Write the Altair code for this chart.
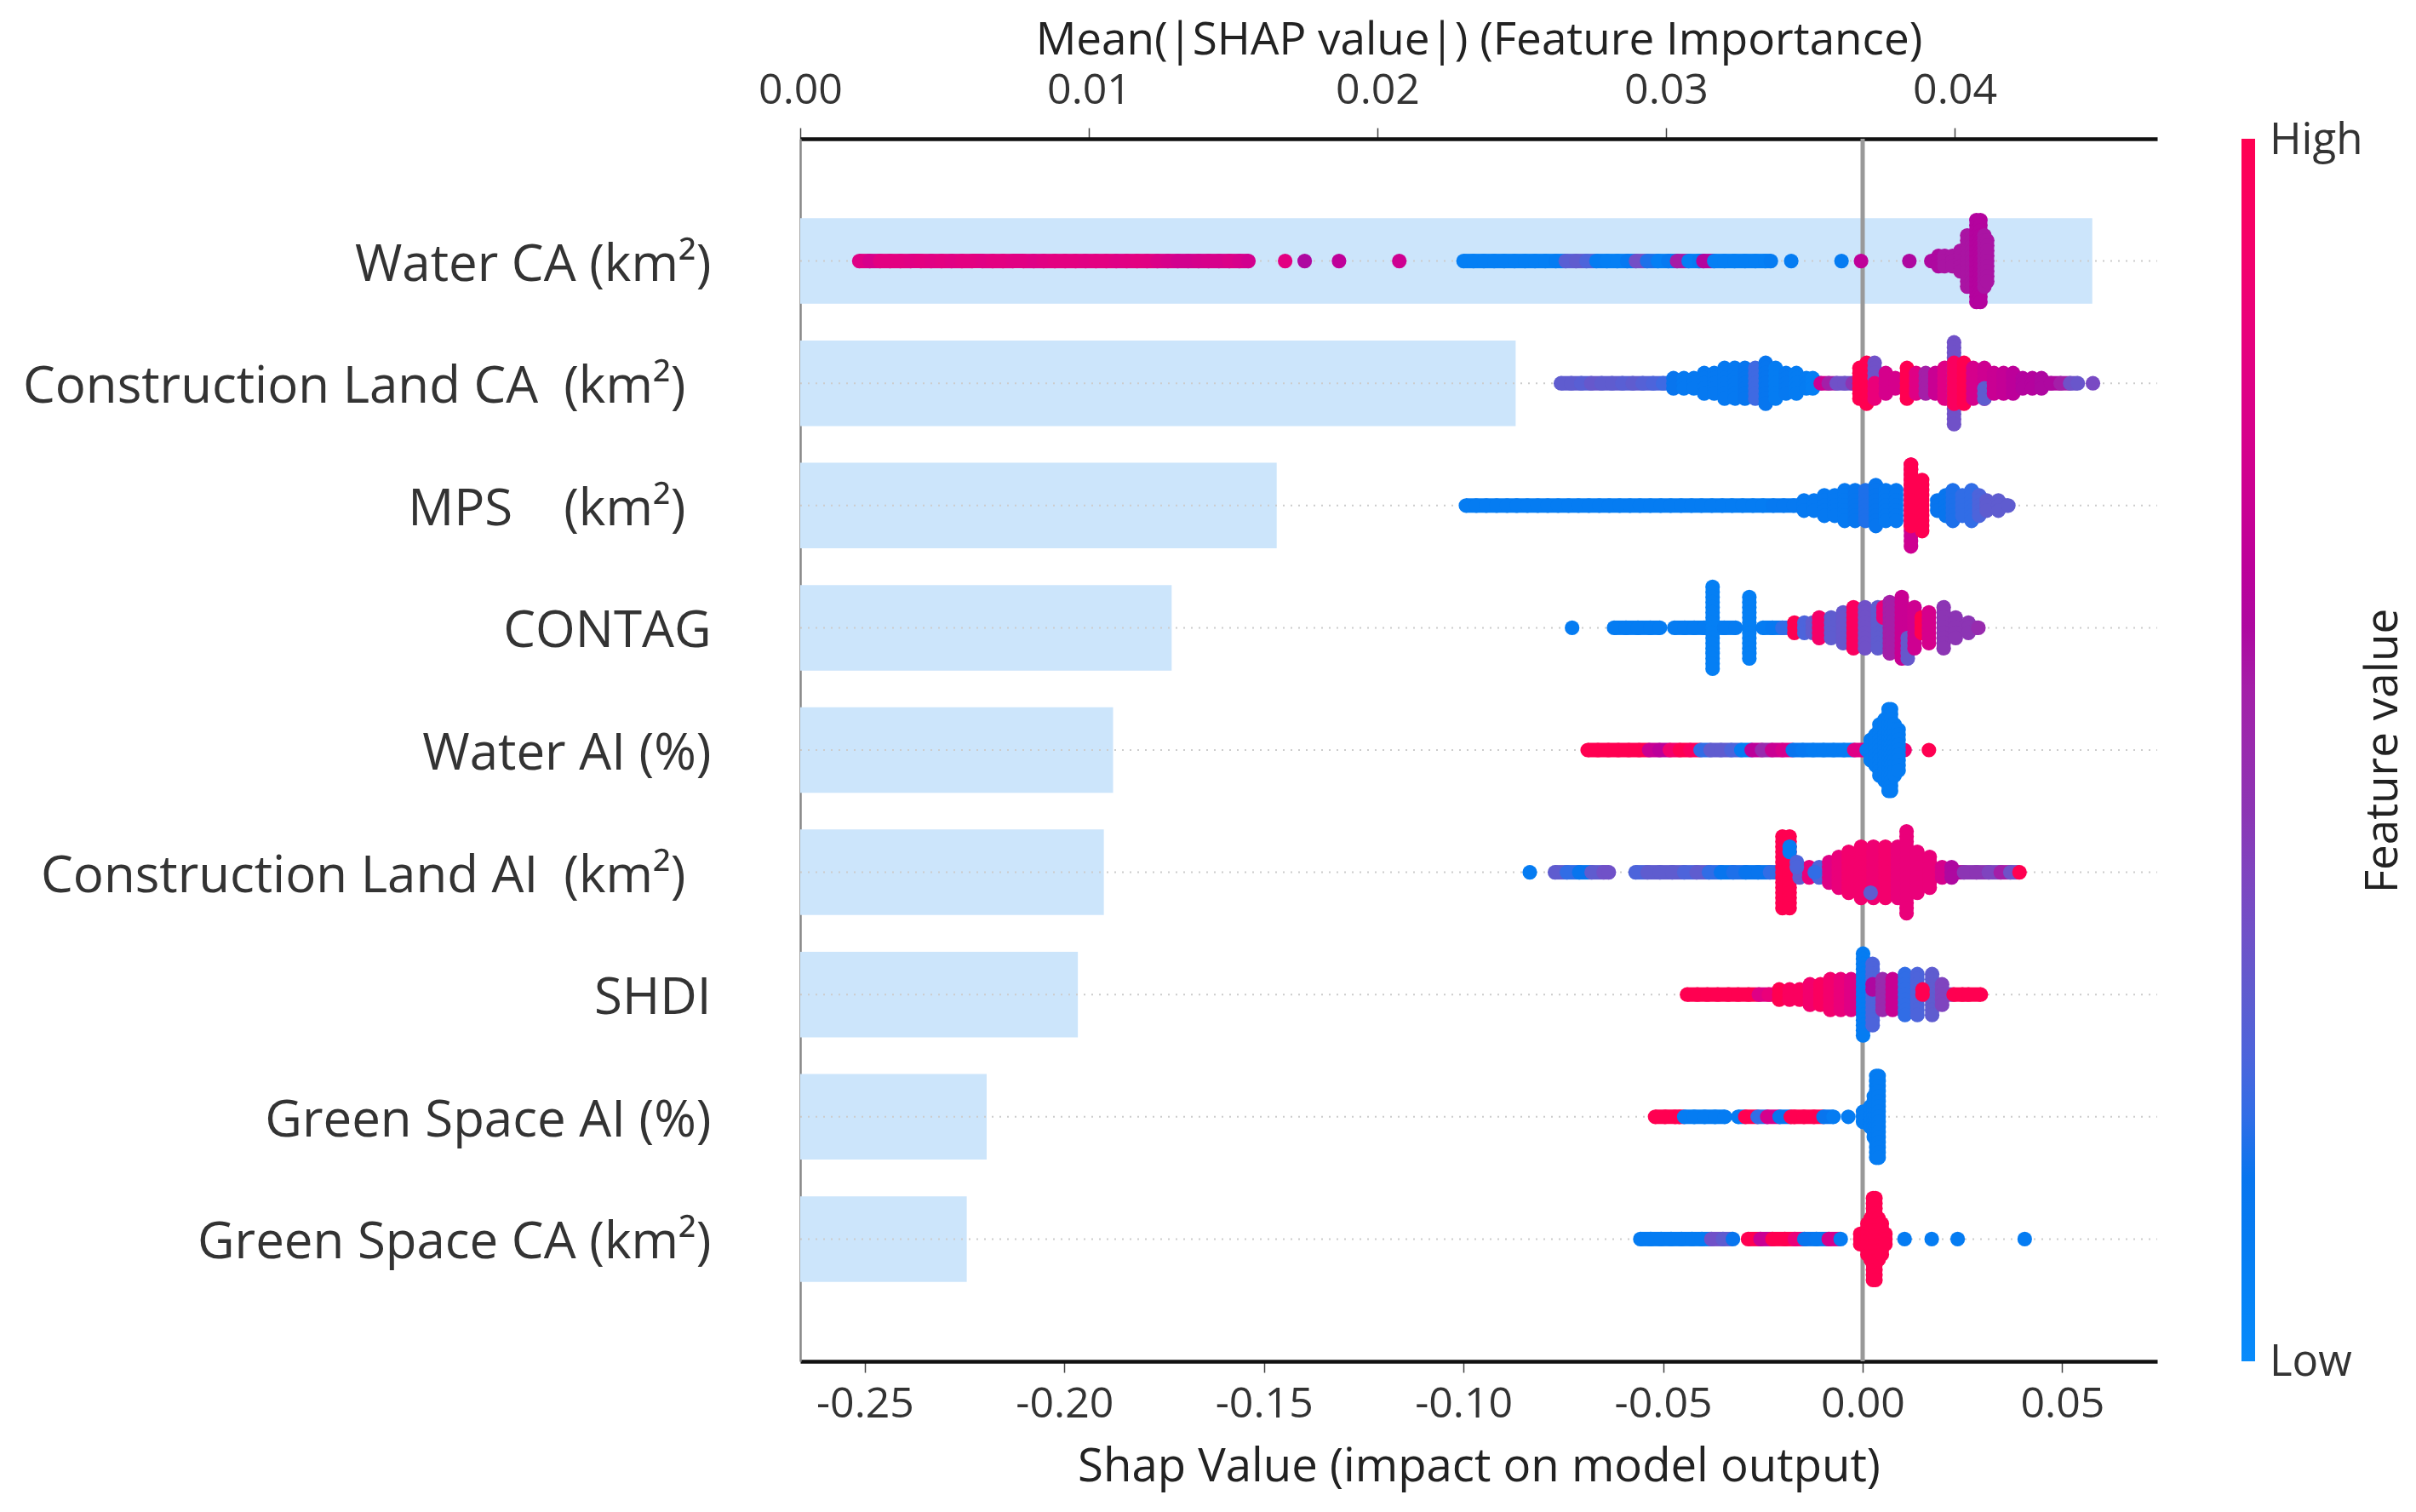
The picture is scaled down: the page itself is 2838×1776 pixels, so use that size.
import altair as alt
import pandas as pd

FONT = "Open Sans"
TAIL = "\u2002\u2060"
features = ["Water CA (km²)", "Construction Land CA\u2002(km²)" + TAIL, "MPS\u2002\u2002(km²)" + TAIL, "CONTAG", "Water AI (%)",
            "Construction Land AI\u2002(km²)" + TAIL, "SHDI", "Green Space AI (%)", "Green Space CA (km²)"]
importance = [0.04477, 0.02479, 0.01651, 0.01287, 0.01084, 0.01052, 0.00962, 0.00646, 0.00577]
top_ticks = [0.0, 0.01, 0.02, 0.03, 0.04]
bottom_ticks = [-0.25, -0.20, -0.15, -0.10, -0.05, 0.0, 0.05]
stop_values = [0, 0.17, 0.30, 0.45, 0.60, 0.80, 1]
stop_colors = ["#088bfb", "#0a72ec", "#5f5ccf", "#8c35b4", "#ae08a0", "#df0085", "#ff0051"]
bar_labels = ["High", "Low"]

# each column of the swarm: (shap value, dots stacked either side, feature value)
water_ca = [
    (-.2514,0,.80),(-.2488,0,.76),(-.2462,0,.82),(-.2437,0,.82),(-.2411,0,.82),(-.2385,0,.81),(-.2360,0,.82),(-.2334,0,.81),
    (-.2308,0,.82),(-.2283,0,.81),(-.2257,0,.82),(-.2231,0,.82),(-.2206,0,.81),(-.2180,0,.82),(-.2154,0,.82),(-.2129,0,.81),
    (-.2103,0,.81),(-.2077,0,.80),(-.2052,0,.81),(-.2024,0,.82),(-.1998,0,.82),(-.1972,0,.82),(-.1947,0,.81),(-.1921,0,.82),
    (-.1895,0,.82),(-.1870,0,.80),(-.1844,0,.81),(-.1818,0,.82),(-.1793,0,.81),(-.1767,0,.78),(-.1741,0,.76),(-.1716,0,.74),
    (-.1690,0,.74),(-.1664,0,.75),(-.1639,0,.76),(-.1613,0,.76),(-.1587,0,.78),(-.1562,0,.76),(-.1539,0,.74),
    (-.1447,0,.82),(-.1398,0,.60),(-.1312,0,.66),(-.1161,0,.72),
    (-.1000,0,.08),(-.0975,0,.08),(-.0949,0,.08),(-.0923,0,.08),(-.0898,0,.08),(-.0872,0,.08),(-.0846,0,.08),(-.0821,0,.08),
    (-.0795,0,.08),(-.0769,0,.10),(-.0744,0,.28),(-.0718,0,.30),(-.0692,0,.25),(-.0667,0,.10),(-.0641,0,.08),(-.0615,0,.08),
    (-.0590,0,.12),(-.0568,0,.36),(-.0540,0,.18),(-.0513,0,.08),(-.0487,0,.12),(-.0465,0,.56),(-.0436,0,.08),(-.0410,0,.10),
    (-.0399,0,.62),(-.0372,0,.08),(-.0346,0,.08),(-.0321,0,.08),(-.0295,0,.08),(-.0269,0,.08),(-.0244,0,.08),(-.0230,0,.10),
    (-.0179,0,.10),(-.0053,0,.10),(-.0004,0,.66),(.0117,0,.60),
    (.0172,0,.60),(.0190,1,.60),(.0205,1,.58),(.0225,1,.58),(.0245,2,.58),(.0262,5,.58),(.0274,5,.58),(.0285,8,.62),(.0295,8,.62),(.0305,5,.58),(.0312,4,.58),
]
construction_ca = [
    (-.0756,0,.30),(-.0730,0,.30),(-.0705,0,.28),(-.0680,0,.32),(-.0654,0,.30),(-.0628,0,.30),(-.0602,0,.28),(-.0576,0,.30),
    (-.0551,0,.27),(-.0525,0,.25),(-.0500,0,.22),(-.0474,1,.15),(-.0448,1,.12),(-.0423,1,.12),(-.0397,2,.12),(-.0372,2,.12),
    (-.0346,3,.12),(-.0320,3,.12),(-.0295,3,.14),(-.0269,3,.22),(-.0243,4,.14),(-.0218,3,.10),(-.0192,2,.12),(-.0166,2,.10),
    (-.0141,1,.10),(-.0125,1,.08),(-.0105,0,.72),(-.0085,0,.55),(-.0065,0,.35),(-.0045,0,.35),(-.0025,0,.45),(-.0008,3,1),
    (.0010,4,1),(.0030,(-4,-1),.35),(.0030,(0,3),.85),(.0058,2,.75),(.0082,1,.75),(.0111,3,1),(.0134,2,.80),(.0158,2,.55),(.0182,2,.70),
    (.0205,3,.80),(.0229,8,.35),(.0229,4,.95),(.0254,4,1),(.0277,3,.75),(.0305,3,.72),(.0305,(1,3),.30),(.0329,2,.70),(.0353,2,.68),
    (.0377,2,.65),(.0401,1,.62),(.0425,1,.62),(.0448,1,.60),(.0472,0,.60),(.0496,0,.55),(.0520,0,.35),(.0539,0,.33),(.0577,0,.38),
]
mps = [
    (-.0994,0,.1),(-.0968,0,.1),(-.0943,0,.1),(-.0917,0,.1),(-.0891,0,.1),(-.0866,0,.1),(-.0840,0,.1),(-.0814,0,.1),(-.0789,0,.1),
    (-.0763,0,.1),(-.0737,0,.1),(-.0712,0,.1),(-.0686,0,.1),(-.0660,0,.1),(-.0635,0,.1),(-.0609,0,.1),(-.0583,0,.1),(-.0558,0,.1),
    (-.0532,0,.1),(-.0506,0,.1),(-.0481,0,.1),(-.0455,0,.1),(-.0429,0,.1),(-.0404,0,.1),(-.0378,0,.1),(-.0352,0,.1),(-.0327,0,.1),
    (-.0301,0,.1),(-.0275,0,.1),(-.0250,0,.1),(-.0224,0,.12),(-.0198,0,.12),(-.0173,0,.12),(-.0147,1,.12),(-.0122,1,.12),(-.0096,2,.12),
    (-.0070,2,.12),(-.0045,3,.12),(-.0019,3,.14),(.0007,3,.18),(.0033,4,.14),(.0058,3,.12),(.0084,3,.12),
    (.0121,(-8,8),.72),(.0121,(-8,4),1),(.0149,5,1),(.0187,1,.15),(.0208,2,.15),(.0226,3,.18),(.0250,2,.20),(.0273,3,.20),(.0292,2,.25),
    (.0311,1,.30),(.0340,1,.30),(.0365,0,.30),
]
contag = [
    (-.0728,0,.1),(-.0623,0,.1),(-.0593,0,.1),(-.0563,0,.1),(-.0532,0,.1),(-.0508,0,.1),(-.0472,0,.1),(-.0446,0,.1),(-.0422,0,.1),(-.0397,0,.1),
    (-.0376,8,.08),(-.0347,0,.1),(-.0318,0,.1),(-.0284,6,.08),(-.0250,0,.1),(-.0226,0,.12),(-.0201,0,.2),(-.0171,1,1),(-.0146,1,.25),
    (-.0125,1,.30),(-.0109,2,.92),(-.0079,2,.30),(-.0049,3,.32),(-.0023,4,.95),(.0006,4,.35),(.0038,4,.30),(.0052,(-4,-2),.85),(.0068,5,.55),(.0098,6,.70),
    (.0113,(2,6),.32),(.0130,4,.72),(.0148,(-2,1),1),(.0166,3,.75),(.0203,4,.45),(.0233,2,.45),(.0265,1,.45),(.0290,0,.50),
]
water_ai = [
    (-.0689,0,1),(-.0663,0,1),(-.0637,0,1),(-.0612,0,1),(-.0586,0,1),(-.0560,0,1),(-.0535,0,.7),(-.0509,0,.65),(-.0483,0,.9),(-.0458,0,1),
    (-.0432,0,.95),(-.0406,0,.2),(-.0381,0,.3),(-.0355,0,.3),(-.0329,0,.25),(-.0304,0,.1),(-.0278,0,.65),(-.0252,0,.5),(-.0227,0,.7),
    (-.0201,0,.75),(-.0175,0,.15),(-.0150,0,.12),(-.0124,0,.1),(-.0098,0,.1),(-.0073,0,.1),(-.0047,0,.1),(-.0021,0,.8),
    (.0105,0,.9),(.0166,0,1),(.0010,0,.1),(.0020,2,.1),(.0032,3,.1),(.0042,5,.1),(.0055,6,.1),(.0065,8,.1),(.0071,8,.1),(.0080,5,.1),(.0090,4,.1),
]
construction_ai = [
    (-.0834,0,.1),(-.0771,0,.3),(-.0741,0,.2),(-.0710,0,.15),(-.0679,0,.3),(-.0649,0,.35),(-.0636,0,.35),(-.0569,0,.25),(-.0539,0,.3),
    (-.0508,0,.3),(-.0477,0,.3),(-.0447,0,.25),(-.0416,0,.3),(-.0385,0,.2),(-.0355,0,.15),(-.0324,0,.18),(-.0293,0,.15),(-.0262,0,.15),(-.0232,0,.2),
    (-.0201,7,1),(-.0183,7,1),(-.0183,(-5,-4),.1),(-.0158,1,.3),(-.0134,1,.85),(-.0109,1,.25),(-.0084,2,.8),(-.0060,3,.85),(-.0035,4,.9),(-.0004,5,.9),
    (.0027,5,.88),(.0057,5,.9),(.0088,5,.85),(.0110,8,.85),(.0137,4,.85),(.0168,3,.85),(.0199,1,.75),(.0223,1,.6),(.0254,0,.45),
    (.0285,0,.45),(.0316,0,.4),(.0346,0,.55),(.0370,0,.35),(.0393,0,1),(.0020,(4,4),.3),(-.0165,(-2,-1),.25),(-.0120,0,.2),
]
shdi = [
    (-.0440,0,1),(-.0414,0,1),(-.0389,0,1),(-.0363,0,1),(-.0337,0,1),(-.0312,0,1),(-.0286,0,1),(-.0260,0,.8),(-.0235,0,.85),(-.0209,1,1),
    (-.0183,1,.95),(-.0158,1,.95),(-.0132,2,.9),(-.0106,2,.95),(-.0081,3,.9),(-.0055,3,.85),(-.0029,3,.8),(.0001,8,.1),(.0025,6,.25),(.0025,(-2,-1),.6),
    (.0050,3,.5),(.0075,3,.7),(.0106,4,.2),(.0137,4,.25),(.0174,4,.3),(.0150,(-1,0),1),(.0199,2,.4),(.0228,0,1),(.0250,0,1),(.0265,0,1),(.0296,0,1),
]
green_ai = [
    (-.0520,0,1),(-.0495,0,1),(-.0470,0,1),(-.0459,0,1),(-.0447,0,.1),(-.0422,0,.1),(-.0396,0,.1),(-.0370,0,.1),(-.0345,0,.1),(-.0312,0,.1),
    (-.0294,0,1),(-.0263,0,.2),(-.0239,0,.75),(-.0208,0,.15),(-.0180,0,1),(-.0171,0,1),(-.0147,0,1),(-.0122,0,1),(-.0098,0,.15),(-.0073,0,.1),(-.0036,0,.1),
    (.0001,1,.1),(.0019,2,.1),(.0028,4,.1),(.0034,8,.1),(.0040,8,.1),
]
green_ca = [
    (-.0557,0,.1),(-.0531,0,.1),(-.0505,0,.1),(-.0480,0,.1),(-.0454,0,.1),(-.0428,0,.1),(-.0403,0,.1),(-.0379,0,.35),(-.0350,0,.3),(-.0325,0,.15),
    (-.0287,0,1),(-.0256,0,.7),(-.0226,0,1),(-.0195,0,1),(-.0170,0,.85),(-.0146,0,.15),(-.0116,0,.12),(-.0085,0,.75),(-.0055,0,.1),
    (-.0006,1,1),(.0012,3,1),(.0020,4,1),(.0026,8,1),(.0032,8,1),(.0040,4,1),(.0048,3,1),(.0057,1,1),(.0105,0,.1),(.0173,0,.1),(.0238,0,.1),(.0406,0,.1),
]
columns = [water_ca, construction_ca, mps, contag, water_ai, construction_ai, shdi, green_ai, green_ca]

ROW_STACK = 6 / 143.6   # one stacked dot, as a share of one row
BAND_HALF = 8.5 / 143.6 # half the thickness of a run of overlapping dots, as a share of one row
TOUCHING = 0.0032       # neighbouring columns closer than this overlap into one solid band
rows, bands = [], []
for r, cols in enumerate(columns, start=1):
    for x, n, c in cols:
        lo, hi = n if isinstance(n, tuple) else (-n, n)
        for k in range(lo, hi + 1):
            rows.append({"row": r + k * ROW_STACK, "shap": x, "value": c, "idx": len(rows)})
    ordered = sorted(cols, key=lambda t: t[0])
    for a, b in zip(ordered, ordered[1:]):
        if b[0] - a[0] <= TOUCHING:
            bands.append({"row": r - BAND_HALF, "row2": r + BAND_HALF, "shap": a[0], "shap2": b[0], "value": a[2]})
points = pd.DataFrame(rows)
band_df = pd.DataFrame(bands)
bars = pd.DataFrame({"feature": features, "importance": importance})

W, H = 1594, 1436
top_scale = alt.Scale(domain=[0, 0.04702], nice=False, zero=False)
bottom_scale = alt.Scale(domain=[-0.2662, 0.0738], nice=False, zero=False)
y_scale = alt.Scale(domain=features, type="band", paddingInner=0.3, paddingOuter=0.65)
row_scale = alt.Scale(domain=[0, 10], reverse=True, nice=False, zero=False)
color_scale = alt.Scale(domain=stop_values, range=stop_colors)
colorbar = alt.Legend(type="gradient", orient="none", legendX=1693, legendY=0, gradientLength=H, gradientThickness=16,
                      title=None, values=[0, 1], labelExpr="''", labelFontSize=1)
LABEL_EXPR = "replace(format(datum.value,'.2f'),'\u2212','-')"
x_common = dict(labelFont=FONT, labelFontSize=50, labelColor="#333333", labelFlush=False, titleFont=FONT,
                titleFontWeight="normal", titleColor="#222222", domainColor="#111111", domainWidth=4.5,
                tickColor="#444444", tickWidth=1.5, tickSize=13, grid=False, labelExpr=LABEL_EXPR)

bar_layer = alt.Chart(bars).mark_bar(color="#cce5fb").encode(
    x=alt.X("importance:Q", scale=top_scale, axis=alt.Axis(orient="top", values=top_ticks,
            title="Mean(|SHAP value|) (Feature Importance)", labelPadding=19, titlePadding=7, titleFontSize=53, **x_common)),
    y=alt.Y("feature:N", scale=y_scale, sort=features, axis=alt.Axis(title=None, ticks=False, labelFont=FONT,
            labelFontSize=60, labelColor="#333333", labelPadding=105, labelLimit=1000, labelOffset=5, grid=False,
            domainColor="#888888", domainWidth=2.5)),
)
dot_layer = alt.Chart(bars).mark_rule(color="#cccccc", strokeWidth=2, strokeDash=[2, 7]).encode(
    y=alt.Y("feature:N", scale=y_scale, sort=features, axis=None),
    x=alt.value(0), x2=alt.value(W),
)
zero_layer = alt.Chart(pd.DataFrame({"z": [0]})).mark_rule(color="#999999", strokeWidth=5).encode(
    x=alt.X("z:Q", scale=bottom_scale, axis=None),
)
band_layer = alt.Chart(band_df).mark_rect().encode(
    x=alt.X("shap:Q", scale=bottom_scale, axis=None),
    x2="shap2:Q",
    y=alt.Y("row:Q", scale=row_scale, axis=None),
    y2="row2:Q",
    color=alt.Color("value:Q", scale=color_scale, legend=colorbar),
)
swarm_layer = alt.Chart(points).mark_circle(size=295, opacity=1).encode(
    x=alt.X("shap:Q", scale=bottom_scale, axis=alt.Axis(orient="bottom", values=bottom_ticks,
            title="Shap Value (impact on model output)", labelPadding=12, titlePadding=22, titleFontSize=54.5, **x_common)),
    y=alt.Y("row:Q", scale=row_scale, axis=None),
    color=alt.Color("value:Q", scale=color_scale, legend=colorbar),
    order=alt.Order("idx:Q"),
)
title_layer = alt.Chart(pd.DataFrame({"t": ["Feature value"]})).mark_text(
    angle=270, font=FONT, fontSize=53, color="#222222", align="center", baseline="middle"
).encode(text="t:N", x=alt.value(1860), y=alt.value(719))
high_layer = alt.Chart(pd.DataFrame({"t": bar_labels[:1]})).mark_text(
    font=FONT, fontSize=51, color="#333333", align="left", baseline="middle"
).encode(text="t:N", x=alt.value(1726), y=alt.value(3))
low_layer = alt.Chart(pd.DataFrame({"t": bar_labels[1:]})).mark_text(
    font=FONT, fontSize=51, color="#333333", align="left", baseline="middle"
).encode(text="t:N", x=alt.value(1726), y=alt.value(1438))

chart = alt.layer(bar_layer, dot_layer, zero_layer, band_layer, swarm_layer, title_layer, high_layer, low_layer
    ).resolve_scale(x="independent", y="independent").properties(
    width=W, height=H, autosize=alt.AutoSizeParams(type="none"),
    padding={"left": 932, "top": 155, "right": 296, "bottom": 165},
).configure_view(stroke=None)
chart.save("out.html", embed_options={"renderer": "svg", "actions": False})
